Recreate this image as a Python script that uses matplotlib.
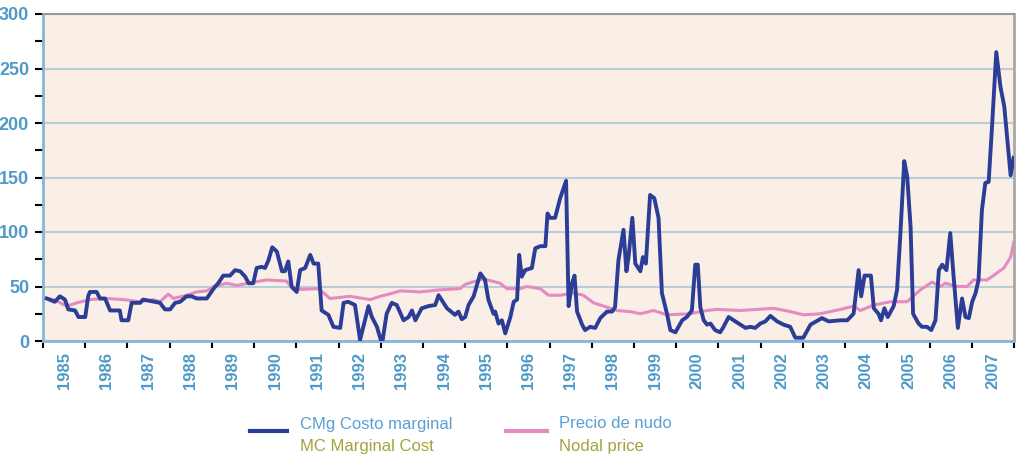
import matplotlib
matplotlib.use("Agg")
import matplotlib.pyplot as plt
from matplotlib.lines import Line2D
from matplotlib.ticker import MultipleLocator, FixedLocator, NullFormatter

# Costo marginal (CMg) - fecha decimal / valor
cmg_fecha = [
    1985.09, 1985.28, 1985.40, 1985.52, 1985.60, 1985.76, 1985.84, 1986.00,
    1986.07, 1986.11, 1986.27, 1986.35, 1986.47, 1986.59, 1986.82, 1986.86,
    1987.02, 1987.10, 1987.30, 1987.37, 1987.77, 1987.89, 1988.01, 1988.13,
    1988.25, 1988.40, 1988.52, 1988.64, 1988.88, 1989.04, 1989.15, 1989.27,
    1989.43, 1989.55, 1989.67, 1989.79, 1989.87, 1989.98, 1990.06, 1990.18,
    1990.26, 1990.34, 1990.43, 1990.54, 1990.66, 1990.73, 1990.81, 1990.89,
    1991.01, 1991.09, 1991.21, 1991.33, 1991.41, 1991.52, 1991.60, 1991.76,
    1991.88, 1992.04, 1992.12, 1992.23, 1992.39, 1992.51, 1992.71, 1992.79,
    1992.91, 1993.03, 1993.14, 1993.26, 1993.38, 1993.54, 1993.66, 1993.74,
    1993.82, 1993.97, 1994.13, 1994.29, 1994.37, 1994.57, 1994.76, 1994.84,
    1994.92, 1995.00, 1995.08, 1995.20, 1995.36, 1995.47, 1995.55, 1995.67,
    1995.71, 1995.79, 1995.87, 1995.95, 1996.07, 1996.15, 1996.23, 1996.28,
    1996.34, 1996.42, 1996.58, 1996.66, 1996.78, 1996.90, 1996.95, 1997.01,
    1997.13, 1997.25, 1997.39, 1997.45, 1997.53, 1997.59, 1997.65, 1997.77,
    1997.84, 1997.96, 1998.08, 1998.20, 1998.36, 1998.48, 1998.55, 1998.63,
    1998.75, 1998.82, 1998.87, 1998.96, 1999.03, 1999.15, 1999.21, 1999.28,
    1999.38, 1999.48, 1999.58, 1999.66, 1999.78, 1999.86, 1999.98, 2000.14,
    2000.25, 2000.37, 2000.45, 2000.51, 2000.57, 2000.65, 2000.73, 2000.81,
    2000.92, 2001.04, 2001.12, 2001.24, 2001.36, 2001.52, 2001.64, 2001.75,
    2001.87, 2001.99, 2002.11, 2002.23, 2002.39, 2002.54, 2002.70, 2002.82,
    2003.01, 2003.18, 2003.45, 2003.61, 2003.89, 2004.05, 2004.20, 2004.32,
    2004.38, 2004.46, 2004.61, 2004.68, 2004.79, 2004.85, 2004.93, 2005.01,
    2005.15, 2005.23, 2005.31, 2005.40, 2005.47, 2005.55, 2005.61, 2005.74,
    2005.82, 2005.94, 2006.04, 2006.14, 2006.22, 2006.30, 2006.40, 2006.49,
    2006.57, 2006.67, 2006.77, 2006.85, 2006.93, 2007.01, 2007.09, 2007.16,
    2007.24, 2007.32, 2007.40, 2007.48, 2007.58, 2007.68, 2007.77, 2007.92,
    2007.99,
]
cmg_valor = [
    39, 36, 41, 38, 29, 28, 22, 22,
    41, 45, 45, 39, 39, 28, 28, 19,
    19, 35, 35, 38, 35, 29, 29, 35,
    36, 41, 41, 39, 39, 48, 53, 60,
    60, 65, 64, 59, 53, 53, 67, 68,
    67, 74, 86, 82, 64, 64, 73, 50,
    45, 65, 67, 79, 71, 71, 28, 24,
    13, 12, 35, 36, 33, 1, 32, 22,
    13, -3, 25, 35, 33, 19, 22, 28,
    19, 30, 32, 33, 42, 30, 24, 27,
    20, 22, 33, 41, 62, 56, 38, 25,
    27, 16, 19, 7, 22, 36, 38, 79,
    59, 65, 67, 85, 87, 87, 117, 113,
    113, 131, 147, 32, 53, 60, 27, 15,
    10, 13, 12, 21, 27, 27, 31, 74,
    102, 64, 77, 113, 71, 64, 77, 71,
    134, 131, 113, 44, 25, 10, 8, 19,
    22, 28, 70, 70, 31, 19, 15, 16,
    10, 8, 13, 22, 19, 15, 12, 13,
    12, 16, 18, 23, 18, 15, 13, 3,
    3, 15, 21, 18, 19, 19, 25, 65,
    41, 60, 60, 30, 25, 19, 30, 22,
    32, 47, 99, 165, 151, 105, 25, 16,
    13, 13, 10, 19, 65, 70, 65, 99,
    59, 12, 39, 22, 21, 36, 44, 56,
    120, 145, 146, 197, 265, 233, 215, 152,
    168,
]

# Precio de nudo
nudo_fecha = [
    1985.09, 1985.24, 1985.36, 1985.56, 1985.80, 1986.11, 1986.51, 1986.90,
    1987.30, 1987.61, 1987.77, 1987.97, 1988.09, 1988.40, 1988.64, 1988.88,
    1989.04, 1989.35, 1989.59, 1990.14, 1990.30, 1990.77, 1990.93, 1991.49,
    1991.56, 1991.80, 1992.27, 1992.75, 1992.99, 1993.29, 1993.46, 1993.93,
    1994.41, 1994.88, 1995.00, 1995.43, 1995.83, 1995.99, 1996.30, 1996.46,
    1996.78, 1996.97, 1997.25, 1997.57, 1997.80, 1998.04, 1998.36, 1998.59,
    1998.91, 1999.15, 1999.46, 1999.78, 2000.33, 2000.73, 2000.96, 2001.52,
    2002.31, 2002.70, 2003.02, 2003.41, 2003.89, 2004.20, 2004.36, 2004.68,
    2005.07, 2005.47, 2005.78, 2006.06, 2006.26, 2006.37, 2006.65, 2006.89,
    2007.04, 2007.36, 2007.51, 2007.76, 2007.92, 2007.99,
]
nudo_valor = [
    39, 38, 36, 32, 35, 38, 39, 38,
    36, 38, 36, 43, 39, 42, 45, 46,
    50, 53, 51, 55, 56, 55, 47, 48,
    47, 39, 41, 38, 41, 44, 46, 45,
    47, 48, 52, 57, 53, 48, 48, 50,
    48, 42, 42, 44, 42, 35, 31, 28,
    27, 25, 28, 24, 25, 28, 29, 28,
    30, 27, 24, 25, 29, 32, 28, 33,
    36, 36, 47, 54, 50, 53, 50, 50,
    56, 56, 60, 67, 77, 90,
]

anios = list(range(1985, 2008))
y_ticks = [0, 50, 100, 150, 200, 250, 300]

azul = "#2b3d96"
rosa = "#e48bc2"
etiqueta = "#4f9ac8"

fig = plt.figure(figsize=(10.16, 4.70), dpi=100)
ax = fig.add_axes([43 / 1016, 129 / 470, 971 / 1016, 327 / 470])
ax.set_facecolor("#faefe7")

ax.plot(nudo_fecha, nudo_valor, color=rosa, linewidth=2.2, zorder=3)
ax.plot(cmg_fecha, cmg_valor, color=azul, linewidth=2.8, zorder=4)

ax.set_xlim(1985, 2008)
ax.set_ylim(0, 300)

# eje Y
ax.set_yticks(y_ticks)
ax.yaxis.set_minor_locator(MultipleLocator(25))
ax.tick_params(axis="y", which="both", direction="out", length=6, width=1.5,
               color="black", pad=4)
for lab in ax.get_yticklabels():
    lab.set_family(["Liberation Sans", "DejaVu Sans"])
    lab.set_fontweight("bold")
    lab.set_fontsize(13)
    lab.set_color(etiqueta)
ax.grid(axis="y", color="#b9cfd8", linewidth=1.5, zorder=1)

# eje X: marcas en el cambio de año, etiquetas al centro del año
ax.xaxis.set_major_locator(FixedLocator(anios + [2008]))
ax.xaxis.set_major_formatter(NullFormatter())
ax.xaxis.set_minor_locator(FixedLocator([a + 0.5 for a in anios]))
ax.set_xticklabels([str(a) for a in anios], minor=True, rotation=90,
                   fontsize=12, fontweight="bold", color=etiqueta,
                   family=["Liberation Sans", "DejaVu Sans"], va="top")
ax.tick_params(axis="x", which="major", direction="out", length=5, width=1.5,
               color="black")
ax.tick_params(axis="x", which="minor", length=0, pad=8)

for s in ["left", "bottom"]:
    ax.spines[s].set_color("#86b6d8")
    ax.spines[s].set_linewidth(2)
ax.spines["top"].set_color("#9a9a9a")
ax.spines["top"].set_linewidth(1.5)
ax.spines["right"].set_color("#a8a8a8")
ax.spines["right"].set_linewidth(2)

# leyenda
fig.add_artist(Line2D([250 / 1016, 287 / 1016], [1 - 431 / 470] * 2,
                      color=azul, linewidth=3))
fig.add_artist(Line2D([506 / 1016, 547 / 1016], [1 - 431 / 470] * 2,
                      color=rosa, linewidth=3))
leg_font = dict(fontsize=12, family=["Liberation Sans", "DejaVu Sans"], va="center")
fig.text(300 / 1016, 1 - 424 / 470, "CMg Costo marginal", color="#5b9fd3", **leg_font)
fig.text(300 / 1016, 1 - 447 / 470, "MC Marginal Cost", color="#a3a23e", **leg_font)
fig.text(559 / 1016, 1 - 424 / 470, "Precio de nudo", color="#5b9fd3", **leg_font)
fig.text(559 / 1016, 1 - 447 / 470, "Nodal price", color="#a3a23e", **leg_font)

fig.savefig("out.png", dpi=100)
